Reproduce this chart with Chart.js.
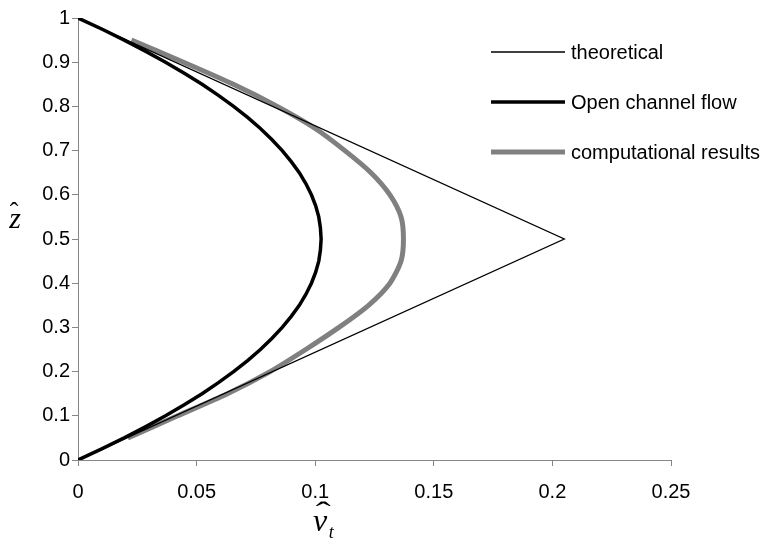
<!DOCTYPE html>
<html>
<head>
<meta charset="utf-8">
<script src="https://cdn.jsdelivr.net/npm/chart.js@4.4.1/dist/chart.umd.min.js"></script>
<style>
  html, body { margin: 0; padding: 0; background: #fff; }
  canvas { display: block; }
</style>
</head>
<body>
<canvas id="nuChart" width="781" height="544"></canvas>
<script>
// eddy viscosity profiles, nu_t (x) against depth z (y)
const theoryZ = [0, 0.5, 1];
const theoryNu = [0, 0.205, 0];

const openZ = [0, 0.025, 0.05, 0.075, 0.1, 0.125, 0.15, 0.175, 0.2, 0.225, 0.25, 0.275, 0.3, 0.325, 0.35, 0.375, 0.4, 0.425, 0.45, 0.475, 0.5,
  0.525, 0.55, 0.575, 0.6, 0.625, 0.65, 0.675, 0.7, 0.725, 0.75, 0.775, 0.8, 0.825, 0.85, 0.875, 0.9, 0.925, 0.95, 0.975, 1];
const openNu = [0, 0.0100, 0.0195, 0.0284, 0.0369, 0.0448, 0.0523, 0.0592, 0.0656, 0.0715, 0.0769, 0.0817, 0.0861, 0.0899, 0.0933, 0.0961, 0.0984, 0.1002, 0.1015, 0.1022, 0.1025,
  0.1022, 0.1015, 0.1002, 0.0984, 0.0961, 0.0933, 0.0899, 0.0861, 0.0817, 0.0769, 0.0715, 0.0656, 0.0592, 0.0523, 0.0448, 0.0369, 0.0284, 0.0195, 0.0100, 0];

const compZ = [0.05, 0.1, 0.15, 0.2, 0.25, 0.3, 0.35, 0.4, 0.45, 0.5, 0.55, 0.6, 0.65, 0.7, 0.75, 0.8, 0.85, 0.9, 0.95];
const compNu = [0.021, 0.042, 0.063, 0.081, 0.096, 0.110, 0.1225, 0.1315, 0.1362, 0.1372, 0.1362, 0.1315, 0.1235, 0.1125, 0.100, 0.084, 0.0655, 0.0445, 0.0225];

const xTicks = [0, 0.05, 0.1, 0.15, 0.2, 0.25];
const yTicks = [0, 0.1, 0.2, 0.3, 0.4, 0.5, 0.6, 0.7, 0.8, 0.9, 1];

const toPoints = (nu, z) => nu.map((v, i) => ({ x: v, y: z[i] }));
const plainNumber = (v) => String(Number(v.toFixed(3)));

const axisGrey = '#868686';
const tickFont = { family: 'Liberation Sans', size: 20 };

// legend drawn by hand so it can sit over the right of the plot like the original
const sideLegend = {
  id: 'sideLegend',
  afterDraw(chart) {
    const ctx = chart.ctx;
    ctx.save();
    ctx.font = '20px "Liberation Sans"';
    ctx.textBaseline = 'middle';
    chart.data.datasets.forEach((ds, i) => {
      const y = 52 + i * 50;
      ctx.strokeStyle = ds.borderColor;
      ctx.lineWidth = ds.borderWidth;
      ctx.beginPath();
      ctx.moveTo(491, y);
      ctx.lineTo(565, y);
      ctx.stroke();
      ctx.fillStyle = '#000';
      ctx.fillText(ds.label, 571, y + 1);
    });
    ctx.restore();
  }
};

// axis titles: z-hat upright on the left, nu-hat sub t under the x axis
const axisTitles = {
  id: 'axisTitles',
  afterDraw(chart) {
    const ctx = chart.ctx;
    const area = chart.chartArea;
    ctx.save();
    ctx.fillStyle = '#000';
    ctx.textAlign = 'center';
    ctx.textBaseline = 'alphabetic';
    const yMid = (area.top + area.bottom) / 2;
    ctx.font = '26px "Liberation Serif"';
    ctx.fillText('ˆ', 14, yMid - 19);
    ctx.font = 'italic 30px "Liberation Serif"';
    ctx.fillText('z', 15, yMid - 11);

    const xc = chart.scales.x.getPixelForValue(0.1) + 8;
    ctx.font = '30px "Liberation Serif"';
    ctx.save();
    ctx.translate(xc, area.bottom + 62);
    ctx.scale(1.5, 1);
    ctx.fillText('ˆ', 0, 0);
    ctx.restore();
    ctx.font = 'italic 32px "Liberation Serif"';
    ctx.fillText('ν', xc - 3, area.bottom + 71);
    ctx.font = 'italic 18px "Liberation Serif"';
    ctx.fillText('t', xc + 8, area.bottom + 78);
    ctx.restore();
  }
};

new Chart(document.getElementById('nuChart'), {
  type: 'scatter',
  data: {
    datasets: [
      {
        label: 'theoretical',
        data: toPoints(theoryNu, theoryZ),
        borderColor: '#000000',
        borderWidth: 1.3,
        showLine: true,
        pointRadius: 0
      },
      {
        label: 'Open channel flow',
        data: toPoints(openNu, openZ),
        borderColor: '#000000',
        borderWidth: 3.5,
        showLine: true,
        pointRadius: 0
      },
      {
        label: 'computational results',
        data: toPoints(compNu, compZ),
        borderColor: '#808080',
        borderWidth: 5,
        showLine: true,
        tension: 0.25,
        pointRadius: 0
      }
    ]
  },
  options: {
    responsive: false,
    animation: false,
    layout: { padding: { top: 18, right: 110, left: 0, bottom: 0 } },
    plugins: {
      legend: { display: false },
      tooltip: { enabled: false }
    },
    scales: {
      x: {
        type: 'linear',
        min: 0,
        max: 0.25,
        afterBuildTicks: (scale) => { scale.ticks = xTicks.map(v => ({ value: v })); },
        afterFit: (scale) => { scale.height = 84; },
        grid: { drawOnChartArea: false, color: axisGrey, tickLength: 6, tickColor: axisGrey },
        border: { color: axisGrey, width: 1 },
        ticks: { font: tickFont, color: '#000', padding: 14, maxRotation: 0, callback: plainNumber }
      },
      y: {
        type: 'linear',
        min: 0,
        max: 1,
        afterBuildTicks: (scale) => { scale.ticks = yTicks.map(v => ({ value: v })); },
        afterFit: (scale) => { scale.width = 78; },
        grid: { drawOnChartArea: false, color: axisGrey, tickLength: 6, tickColor: axisGrey },
        border: { color: axisGrey, width: 1 },
        ticks: { font: tickFont, color: '#000', padding: 2, callback: plainNumber }
      }
    }
  },
  plugins: [sideLegend, axisTitles]
});
</script>
</body>
</html>
